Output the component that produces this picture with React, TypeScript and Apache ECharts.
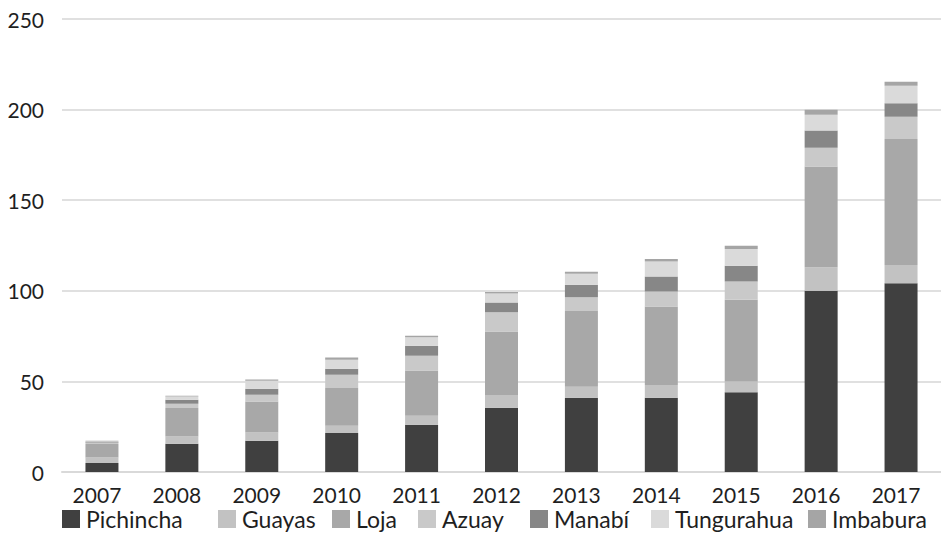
import React, { useEffect, useRef } from "react";
import * as echarts from "echarts";

const years = ["2007", "2008", "2009", "2010", "2011", "2012", "2013", "2014", "2015", "2016", "2017"];

const pichincha = [5, 15.6, 17.3, 21.5, 26.1, 35.5, 41, 41, 44, 100, 104.2];
const guayas = [3, 4, 4.5, 4, 5, 7, 6, 7, 6, 13, 10];
const loja = [7.4, 15.7, 17.1, 20.8, 24.9, 35.1, 41.9, 43.3, 45, 55.6, 69.6];
const azuay = [0.6, 2.4, 3.7, 7.4, 8.1, 10.5, 7.6, 8.3, 10.2, 10.4, 12.3];
const manabi = [0.4, 2.2, 3.3, 3.3, 5.6, 5.5, 6.8, 8.3, 8.6, 9.4, 7.4];
const tungurahua = [0.5, 1.7, 4.4, 5.0, 4.7, 4.9, 6.1, 8.3, 9.2, 8.8, 9.6];
const imbabura = [0.4, 0.5, 0.7, 1.2, 0.8, 0.8, 1.1, 1.3, 1.8, 2.7, 2.3];

const seriesNames = ["Pichincha", "Guayas", "Loja", "Azuay", "Manabí", "Tungurahua", "Imbabura"];
const seriesData = [pichincha, guayas, loja, azuay, manabi, tungurahua, imbabura];
const seriesColors = ["#404040", "#c2c2c2", "#a8a8a8", "#c9c9c9", "#878787", "#dadada", "#a5a5a5"];

// left edge of each legend entry along the bottom row
const legendLeft = [62, 218, 332, 418, 530, 651, 808];

const FONT = "Lato, 'Open Sans', sans-serif";
const TEXT = "#1f1f1f";

export default function App() {
  const ref = useRef<HTMLDivElement>(null);

  useEffect(() => {
    if (!ref.current) return;
    const chart = echarts.init(ref.current, null, { renderer: "svg" });
    chart.setOption({
      animation: false,
      textStyle: { fontFamily: FONT },
      grid: { left: 62, right: 0, top: 19, bottom: 88, containLabel: false },
      legend: seriesNames.map((name, i) => ({
        data: [name],
        left: legendLeft[i],
        top: 507,
        padding: 0,
        icon: "rect",
        itemWidth: 18,
        itemHeight: 18,
        itemGap: 0,
        selectedMode: false,
        textStyle: { fontFamily: FONT, fontSize: 23, color: TEXT, lineHeight: 24, padding: [0, 0, 0, 1] },
      })),
      xAxis: {
        type: "category",
        data: years,
        axisLine: { lineStyle: { color: "#d9d9d9", width: 2 } },
        axisTick: { show: false },
        axisLabel: { fontFamily: FONT, fontSize: 21, color: TEXT, margin: 12, padding: [0, 10, 0, 0] },
      },
      yAxis: {
        type: "value",
        min: 0,
        max: 250,
        interval: 50,
        axisLine: { show: false },
        axisTick: { show: false },
        splitLine: { lineStyle: { color: "#e0e0e0", width: 2 } },
        axisLabel: { fontFamily: FONT, fontSize: 21, color: TEXT, margin: 18 },
      },
      series: seriesNames.map((name, i) => ({
        name,
        type: "bar",
        stack: "total",
        barWidth: 33,
        data: seriesData[i],
        itemStyle: { color: seriesColors[i] },
      })),
    });
    return () => chart.dispose();
  }, []);

  return <div ref={ref} style={{ width: 941, height: 560, position: "absolute", left: 0, top: 0 }} />;
}
